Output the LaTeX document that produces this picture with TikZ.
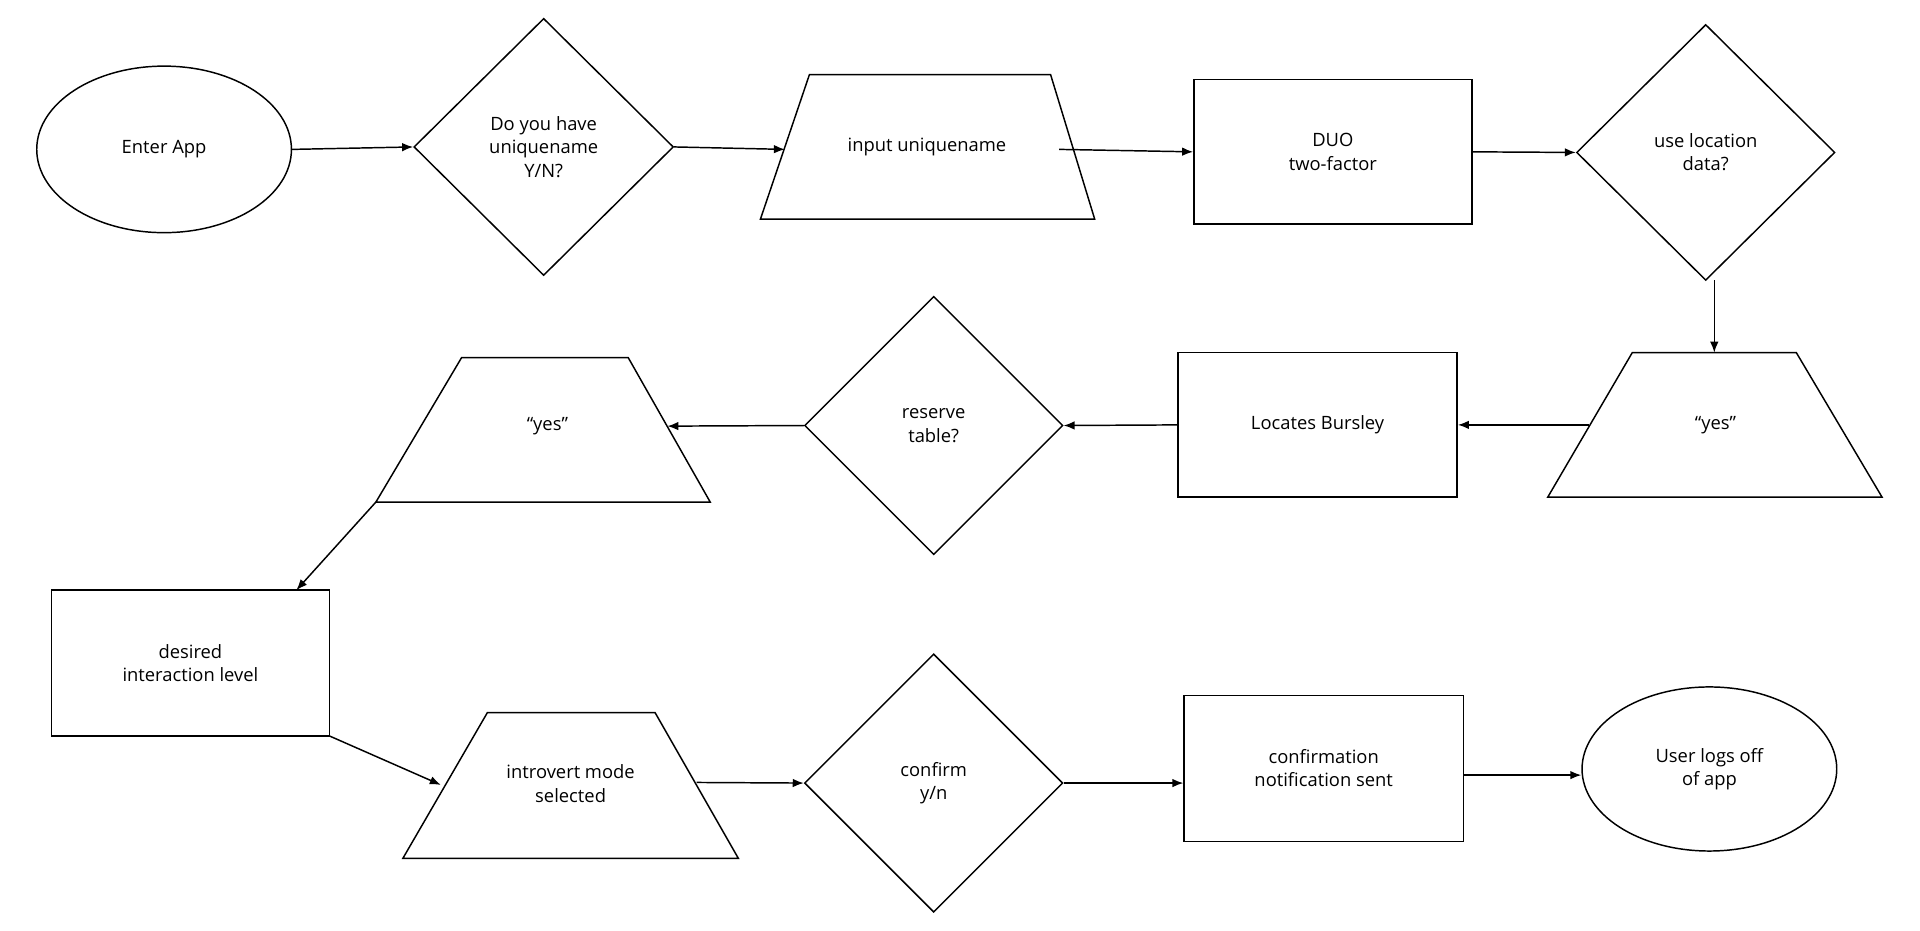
\documentclass[tikz,border=0pt]{standalone}
\usepackage{fontspec}
\setmainfont{Open Sans}
\usetikzlibrary{shapes.geometric,arrows.meta}
\begin{document}
\begin{tikzpicture}[x=1pt,y=-1pt,
  every node/.style={font=\fontsize{15}{19}\selectfont,align=center},
  sh/.style={draw,line width=1.2pt},
  con/.style={line width=1.2pt,-{Latex[length=9pt,width=7pt]}},
  tx/.style={inner sep=0pt}]
\useasboundingbox (0,0) rectangle (1568,760);
% row 1
\node[sh,ellipse,minimum width=208,minimum height=136] (enter) at (134,122) {Enter App};
\node[sh,diamond,minimum width=212,minimum height=210,inner sep=0pt] (d1) at (444,120) {Do you have\\uniquename\\Y/N?};
\draw[sh] (621,179)--(661,61)--(858,61)--(894,179)--cycle;
\node[tx] (t1) at (757,120) {input uniquename};
\coordinate (t1l) at (641,122); \coordinate (t1r) at (865,122);
\node[sh,rectangle,minimum width=227,minimum height=118] (duo) at (1088.5,124) {DUO\\two-factor};
\node[sh,diamond,minimum width=211,minimum height=209,inner sep=0pt] (d2) at (1393,124.5) {use location\\data?};
% row 2
\draw[sh] (1264,406)--(1333,288)--(1467,288)--(1537,406)--cycle;
\node[tx] (t2) at (1401,347) {“yes”};
\coordinate (t2top) at (1400,288); \coordinate (t2l) at (1298,347);
\coordinate (d2b) at (1400,229);
\node[sh,rectangle,minimum width=228,minimum height=118] (loc) at (1076,347) {Locates Bursley};
\node[sh,diamond,minimum width=211,minimum height=211,inner sep=0pt] (d3) at (762.5,347.5) {reserve\\table?};
\draw[sh] (307,410)--(377,292)--(513,292)--(580,410)--cycle;
\node[tx] (t3) at (447,348) {“yes”};
\coordinate (t3r) at (545,348); \coordinate (t3bl) at (307,410);
% row 3
\node[sh,rectangle,minimum width=227,minimum height=119] (des) at (155.5,541.5) {desired\\interaction level};
\coordinate (desT) at (242,482); \coordinate (desBR) at (269,601);
\draw[sh] (329,701)--(398,582)--(535,582)--(603,701)--cycle;
\node[tx] (t4) at (466,640) {introvert mode\\selected};
\coordinate (t4l) at (360,641); \coordinate (t4r) at (569,639);
\node[sh,diamond,minimum width=211,minimum height=211,inner sep=0pt] (d4) at (762.5,639.5) {confirm\\y/n};
\node[sh,rectangle,minimum width=228,minimum height=119] (conf) at (1081,627.5) {confirmation\\notification sent};
\node[sh,ellipse,minimum width=208,minimum height=134] (off) at (1396,628) {User logs off\\of app};
% connectors
\draw[con] (enter.east) -- (d1.west);
\draw[con] (d1.east) -- (t1l);
\draw[con] (t1r) -- (duo.west);
\draw[con] (duo.east) -- (d2.west);
\draw[con] (d2b) -- (t2top);
\draw[con] (t2l) -- (loc.east);
\draw[con] (loc.west) -- (d3.east);
\draw[con] (d3.west) -- (t3r);
\draw[con] (t3bl) -- (desT);
\draw[con] (desBR) -- (t4l);
\draw[con] (t4r) -- (d4.west);
\draw[con] (d4.east) -- (conf.west |- d4.east);
\draw[con] (conf.east |- 0,633) -- (off.west |- 0,633);
\end{tikzpicture}
\end{document}
